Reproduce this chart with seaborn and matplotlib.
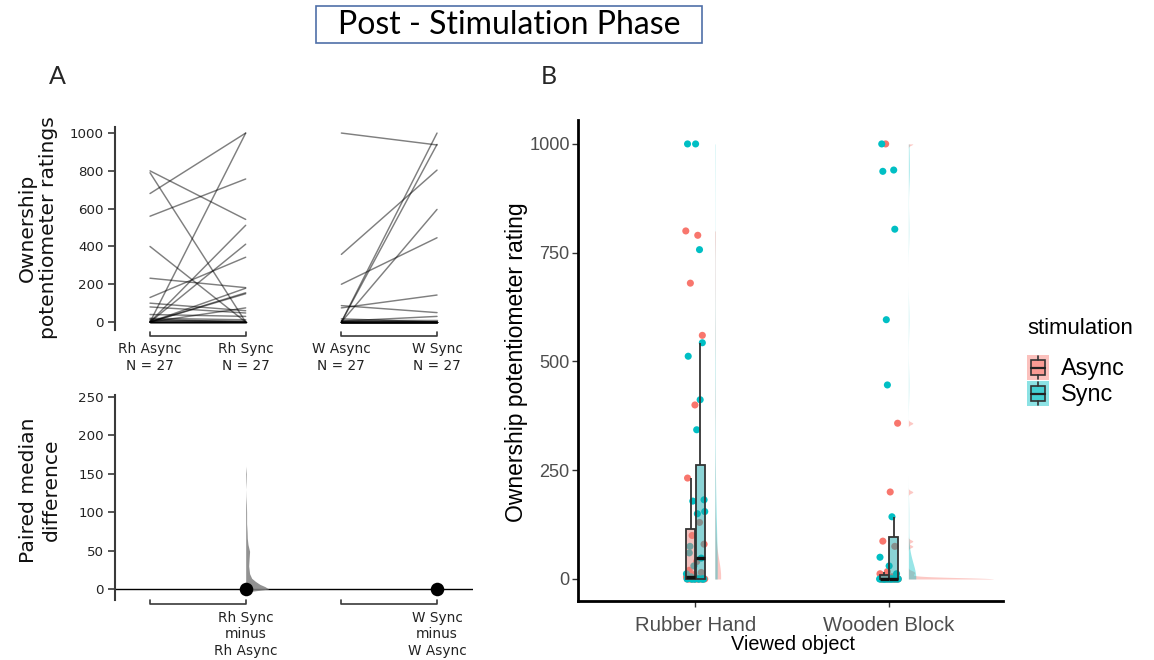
import numpy as np
import pandas as pd
import matplotlib
matplotlib.use("Agg")
import matplotlib.pyplot as plt
import seaborn as sns
from matplotlib import font_manager as fm
from matplotlib.patches import Rectangle
from matplotlib.colors import to_rgba

# ---------------- data ----------------
rh_async = [800, 790, 680, 560, 400, 232, 130, 100, 80, 40, 20, 15, 10, 5,
            0, 0, 0, 0, 0, 0, 0, 0, 0, 0, 0, 0, 0]
rh_sync = [543, 0, 1000, 757, 0, 182, 343, 60, 48, 30, 12, 0, 5, 0,
           1000, 512, 412, 179, 155, 150, 75, 0, 0, 0, 0, 0, 0]
w_async = [1000, 358, 200, 87, 75, 17, 12, 5,
           0, 0, 0, 0, 0, 0, 0, 0, 0, 0, 0, 0, 0, 0, 0, 0, 0, 0, 0]
w_sync = [937, 804, 446, 50, 143, 0, 12, 30, 1000, 940, 596,
          0, 0, 0, 0, 0, 0, 0, 0, 0, 0, 0, 0, 0, 0, 0, 0]

groups_A = ["Rh Async", "Rh Sync", "W Async", "W Sync"]
n_per_group = [27, 27, 27, 27]
contrast_labels = ["Rh Sync\nminus\nRh Async", "W Sync\nminus\nW Async"]

# bootstrap distribution of the Rh paired median difference (shape)
boot_y = [-4, 0, 3, 6, 10, 14, 20, 30, 40, 49, 58, 66, 75, 85, 100, 110, 120, 130, 140, 150, 160]
boot_density = [0.0, 1.0, 0.85, 0.62, 0.42, 0.26, 0.17, 0.13, 0.15, 0.17, 0.10, 0.07,
                0.06, 0.04, 0.04, 0.03, 0.01, 0.0, 0.02, 0.03, 0.0]

objects = ["Rubber Hand", "Wooden Block"]
stimulations = ["Async", "Sync"]
stim_colors = {"Async": "#F8766D", "Sync": "#00BFC4"}

# ---------------- style ----------------
sns.set_theme(style="white")
plt.rcParams['font.family'] = ['DejaVu Sans']

names = {f.name for f in fm.fontManager.ttflist}
narrow = 'Liberation Sans Narrow' in names
bfont = 'Liberation Sans Narrow' if narrow else 'Liberation Sans'
k = 1.0 if narrow else 0.84
tfont = 'Lato' if 'Lato' in names else 'DejaVu Sans'

W, H = 1154, 660
fig = plt.figure(figsize=(W / 100, H / 100), dpi=100)


def box(l, t, r, b):
    return [l / W, 1 - b / H, (r - l) / W, (b - t) / H]


axA1 = fig.add_axes(box(115, 127, 473, 330))
axA2 = fig.add_axes(box(115, 395, 473, 600))
axB = fig.add_axes(box(578, 120, 1003, 601))

spine_c = '#3a3a3a'

# ---------------- Panel A top: slope graph ----------------
rows = []
for pid, (a, s) in enumerate(zip(rh_async, rh_sync)):
    rows.append((pid, 0, a))
    rows.append((pid, 1, s))
for pid, (a, s) in enumerate(zip(w_async, w_sync)):
    rows.append((pid + 100, 2, a))
    rows.append((pid + 100, 3, s))
dfA = pd.DataFrame(rows, columns=["unit", "x", "rating"])
sns.lineplot(data=dfA, x="x", y="rating", units="unit", estimator=None,
             color="black", alpha=0.5, lw=1.05, ax=axA1, legend=False)

xA = np.arange(4)
axA1.set_xlim(-0.366, 3.376)
axA1.set_ylim(-42, 1032)
axA1.set_yticks(np.arange(0, 1001, 200))
axA1.set_xticks(xA)
axA1.set_xticklabels([f"{g}\nN = {n}" for g, n in zip(groups_A, n_per_group)])
axA1.set_xlabel("")
axA1.set_ylabel("")
for sp in ["top", "right", "bottom"]:
    axA1.spines[sp].set_visible(False)
axA1.spines["left"].set_color(spine_c)
axA1.spines["left"].set_linewidth(1.5)
axA1.tick_params(axis="x", length=0, pad=9, labelsize=9.8, colors="#222222")
axA1.tick_params(axis="y", length=5, width=1.2, color=spine_c, left=True,
                 labelsize=9.6, labelcolor="#222222", pad=3)
for x0, x1 in [(0, 1), (2, 3)]:
    axA1.plot([x0, x0, x1, x1], [-53, -74, -74, -53], color=spine_c, lw=1.2, clip_on=False)

# ---------------- Panel A bottom: paired median differences ----------------
diff_rh = float(np.median(np.array(rh_sync) - np.array(rh_async)))
diff_w = float(np.median(np.array(w_sync) - np.array(w_async)))
axA2.axhline(0, color="black", lw=1.0, zorder=1)
bd = np.array(boot_density)
axA2.fill_betweenx(boot_y, 1, 1 + bd * 0.24, color="#7f7f7f", alpha=0.85, lw=0, zorder=2)
sns.scatterplot(x=[1, 3], y=[diff_rh, diff_w], color="black", s=95, linewidth=0,
                ax=axA2, zorder=5, legend=False)
axA2.set_xlim(-0.366, 3.376)
axA2.set_ylim(-14.3, 252.6)
axA2.set_yticks(np.arange(0, 251, 50))
axA2.set_xticks([1, 3])
axA2.set_xticklabels(contrast_labels)
for sp in ["top", "right", "bottom"]:
    axA2.spines[sp].set_visible(False)
axA2.spines["left"].set_color(spine_c)
axA2.spines["left"].set_linewidth(1.5)
axA2.tick_params(axis="x", length=0, pad=8, labelsize=9.8, colors="#222222")
axA2.tick_params(axis="y", length=5, width=1.2, color=spine_c, left=True,
                 labelsize=9.6, labelcolor="#222222", pad=3)
for x0, x1 in [(0, 1), (2, 3)]:
    axA2.plot([x0, x0, x1, x1], [-14.3, -19.5, -19.5, -14.3], color=spine_c, lw=1.2, clip_on=False)

fig.text(38 / W, 1 - 228 / H, "Ownership\npotentiometer ratings", rotation=90,
         ha="center", va="center", fontsize=14.6, multialignment="center", color="#111111")
fig.text(40 / W, 1 - 490 / H, "Paired median\ndifference", rotation=90,
         ha="center", va="center", fontsize=14.6, multialignment="center", color="#111111")

# ---------------- Panel B: raincloud ----------------
values_B = {("Rubber Hand", "Async"): rh_async, ("Rubber Hand", "Sync"): rh_sync,
            ("Wooden Block", "Async"): w_async, ("Wooden Block", "Sync"): w_sync}


def nrd0(v):
    v = np.asarray(v, float)
    sd = v.std(ddof=1)
    q1, q3 = np.percentile(v, [25, 75])
    lo = min(sd, (q3 - q1) / 1.34)
    if lo <= 0:
        lo = sd
    return 0.9 * lo * len(v) ** -0.2


def kde(v, grid):
    v = np.asarray(v, float)
    bw = nrd0(v)
    z = (grid[:, None] - v[None, :]) / bw
    return np.exp(-0.5 * z ** 2).sum(1) / (len(v) * bw * np.sqrt(2 * np.pi))


dens = {}
for key, v in values_B.items():
    g = np.linspace(min(v), max(v), 2000)
    dens[key] = (g, kde(v, g))
gmax = max(d.max() for _, d in dens.values())
for (obj, stim), (g, d) in dens.items():
    ci = objects.index(obj)
    axB.fill_betweenx(g, ci + 0.1, ci + 0.1 + d / gmax * 0.44,
                      color=stim_colors[stim], alpha=0.4, lw=0, zorder=1)

rowsB = []
for obj in objects:
    for stim in stimulations:
        ci = objects.index(obj)
        off = -0.025 if stim == "Async" else 0.025
        for i, v in enumerate(values_B[(obj, stim)]):
            j = (((i + 7 * ci + 3 * stimulations.index(stim)) * 0.6180339887) % 1.0 - 0.5) * 0.1
            rowsB.append((obj, stim, v, ci + off, ci + j))
dfB = pd.DataFrame(rowsB, columns=["object", "stimulation", "rating", "xbox", "xj"])

sns.scatterplot(data=dfB, x="xj", y="rating", hue="stimulation", palette=stim_colors,
                s=26, linewidth=0, legend=False, ax=axB, zorder=1.5)
n_before = len(axB.patches)
n_lines_before = len(axB.lines)
sns.boxplot(data=dfB, x="xbox", y="rating", hue="stimulation", palette=stim_colors,
            native_scale=True, dodge=False, width=0.9, showfliers=False,
            linecolor="#333333", linewidth=1.3,
            medianprops={"color": "#111111", "linewidth": 2.4},
            capprops={"linewidth": 0}, legend=False, ax=axB)
for p in axB.patches[n_before:]:
    fc = p.get_facecolor()
    p.set_facecolor((fc[0], fc[1], fc[2], 0.5))
    p.set_zorder(2)
for ln in axB.lines[n_lines_before:]:
    ln.set_zorder(2.5)

axB.set_xlim(-0.607, 1.589)
axB.set_ylim(-50.6, 1055)
axB.set_xticks([0, 1])
axB.set_xticklabels(objects)
axB.set_yticks([0, 250, 500, 750, 1000])
axB.set_xlabel("")
axB.set_ylabel("")
for sp in ["top", "right"]:
    axB.spines[sp].set_visible(False)
for sp in ["left", "bottom"]:
    axB.spines[sp].set_color("black")
    axB.spines[sp].set_linewidth(2.0)
axB.tick_params(axis="both", length=4, width=1.0, color="#333333", bottom=True, left=True)
axB.tick_params(axis="x", pad=7)
axB.tick_params(axis="y", pad=2)
for lab in axB.get_xticklabels():
    lab.set_family(bfont); lab.set_fontsize(17.5 * k); lab.set_color("#4D4D4D")
for lab in axB.get_yticklabels():
    lab.set_family(bfont); lab.set_fontsize(15.5 * k); lab.set_color("#4D4D4D")

fig.text(793 / W, 1 - 645 / H, "Viewed object", ha="center", va="center",
         family=bfont, fontsize=17.0 * k, color="black")
fig.text(516 / W, 1 - 362 / H, "Ownership potentiometer rating", rotation=90,
         ha="center", va="center", family="Liberation Sans", fontsize=16.5, color="black")

# ---------------- overlay: title, panel letters, legend ----------------
ov = fig.add_axes([0, 0, 1, 1])
ov.set_xlim(0, W)
ov.set_ylim(H, 0)
ov.axis("off")
ov.patch.set_alpha(0)
ov.add_patch(Rectangle((316, 6), 386, 37, fill=False, ec="#4F6FA8", lw=1.2))
ov.text(509, 25, "Post - Stimulation Phase", ha="center", va="center",
        fontsize=23, family=tfont, color="black")
ov.text(57, 76, "A", ha="center", va="center", fontsize=18, family=tfont)
ov.text(549, 76, "B", ha="center", va="center", fontsize=18, family=tfont)

ov.text(1027, 329, "stimulation", ha="left", va="center", family=bfont,
        fontsize=19 * k, color="black")
for i, stim in enumerate(stimulations):
    top = 355 + i * 26
    c = stim_colors[stim]
    ov.add_patch(Rectangle((1027, top), 22, 25, fc=to_rgba(c, 0.45), ec="none"))
    ov.add_patch(Rectangle((1031, top + 5), 14, 15, fc=to_rgba(c, 0.5), ec="#333333", lw=1.2))
    ov.plot([1031, 1045], [top + 12.5, top + 12.5], color="#222222", lw=1.6)
    ov.plot([1038, 1038], [top + 1, top + 5], color="#333333", lw=1.2)
    ov.plot([1038, 1038], [top + 20, top + 24], color="#333333", lw=1.2)
    ov.text(1061, top + 13, stim, ha="left", va="center", family=bfont,
            fontsize=20 * k, color="black")

fig.savefig("out.png", dpi=100)
